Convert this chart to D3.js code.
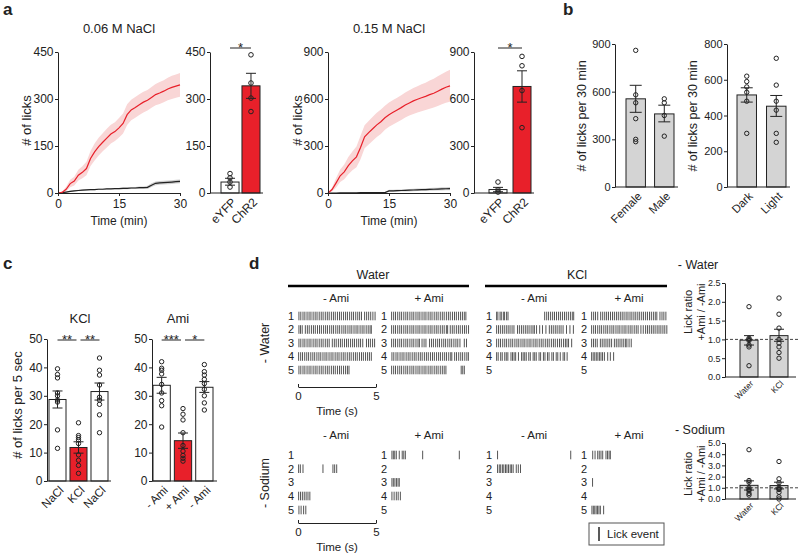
<!DOCTYPE html>
<html>
<head>
<script src="https://cdn.jsdelivr.net/npm/d3@7"></script>
<style>
  body { margin: 0; background: #fff; }
  svg { font-family: "Liberation Sans", Arial, sans-serif; }
</style>
</head>
<body>
<svg width="800" height="554"></svg>
<script>
// ---------- data ----------
// panel a: cumulative licks over 30 min
const timeMin = [0,1,2,3,4,5,6,7,8,9,10,11,12,13,14,15,16,17,18,19,20,21,22,23,24,25,26,27,28,29,30];
const chr2Low = [0,2,12,30,38,57,66,78,110,131,148,162,175,188,196,208,222,250,265,273,282,290,296,305,314,319,325,332,337,341,345];
const chr2LowLo = [0,0,5,18,24,40,47,57,86,104,120,133,145,158,166,177,190,217,232,240,249,257,263,272,280,284,290,296,300,304,307];
const chr2LowHi = [0,4,20,42,52,74,85,100,134,158,176,191,205,218,226,239,254,283,298,306,315,323,329,338,348,354,360,368,374,378,383];
const eyfpLow = [0,1,3,5,7,8,9,10,11,11,12,12,13,13,14,14,15,15,16,16,17,17,18,25,31,32,33,34,35,36,37];
const eyfpLowLo = [0,0,1,3,5,6,7,8,9,9,10,10,11,11,12,12,12,12,13,13,13,13,13,19,25,26,27,28,29,30,31];
const eyfpLowHi = [0,2,5,7,9,10,11,12,13,13,14,14,15,15,16,16,18,18,19,19,21,21,23,31,37,38,39,40,41,42,43];
const chr2High = [0,22,65,110,135,175,205,231,290,359,385,410,435,455,480,500,515,530,545,562,575,588,598,608,617,628,637,650,663,675,684];
const chr2HighLo = [0,10,35,70,88,120,145,165,215,285,310,333,357,377,403,423,437,452,466,482,494,505,514,522,530,538,545,555,566,576,583];
const chr2HighHi = [0,35,95,150,182,230,265,297,365,433,460,487,513,533,557,577,593,608,624,642,656,671,682,694,704,718,729,745,760,774,786];
const eyfpHigh = [0,0,0,1,1,1,1,1,2,2,2,2,2,2,3,13,14,15,16,17,18,19,20,21,22,23,24,25,26,27,28];
const eyfpHighLo = [0,0,0,0,0,0,0,0,0,0,0,0,0,0,1,6,7,8,9,10,10,11,12,13,13,14,15,16,16,17,18];
const eyfpHighHi = [0,1,1,2,2,2,2,2,4,4,4,4,4,4,5,20,21,22,23,24,26,27,28,29,31,32,33,34,36,37,38];

const groupsA = ["eYFP", "ChR2"];
const totalLowMean = [35, 342], totalLowErr = [[25, 47], [302, 382]];
const totalLowDots = [[62, 48, 35, 19], [441, 351, 303, 260]];
const totalHighMean = [22, 680], totalHighErr = [[8, 36], [580, 780]];
const totalHighDots = [[70, 21, 6], [872, 812, 654, 417]];

// panel b
const sexGroups = ["Female", "Male"];
const sexMean = [555, 460], sexErr = [[470, 640], [410, 515]];
const sexDots = [[860, 580, 530, 430, 300, 285], [555, 530, 450, 320]];
const cycleGroups = ["Dark", "Light"];
const cycleMean = [515, 452], cycleErr = [[475, 555], [395, 512]];
const cycleDots = [[620, 590, 560, 530, 480, 300], [720, 570, 480, 430, 300, 250]];

// panel c
const kclGroups = ["NaCl", "KCl", "NaCl"];
const kclMean = [28.7, 11.8, 31.5], kclErr = [[25.7, 31.7], [9.8, 13.8], [28.5, 34.5]];
const kclDots = [[39.5, 37.5, 36.3, 31, 30, 28.5, 27.8, 18, 11.5],
                 [20.5, 16, 15.3, 14.5, 13.2, 9.2, 7.3, 5.5, 2.7],
                 [43.3, 39, 37.3, 33.8, 29.5, 28.5, 27, 23.3, 17]];
const amiGroups = ["- Ami", "+ Ami", "- Ami"];
const amiMean = [33.7, 14.2, 33], amiErr = [[30.9, 36.5], [11.5, 16.9], [31.2, 35]];
const amiDots = [[42, 39.7, 39, 37.7, 34, 31, 28.3, 26.5, 19],
                 [25.5, 23.5, 21.5, 17, 12.5, 10.5, 9, 8, 7],
                 [41, 38.5, 37.3, 35.8, 34.3, 32.3, 30, 27.5, 25]];

// panel d: lick times (s) per trial
const wWaterMinus = [
  [0.06,0.18,0.32,0.44,0.58,0.71,0.83,0.97,1.1,1.22,1.36,1.49,1.61,1.75,1.88,2.0,2.14,2.27,2.39,2.53,2.66,2.78,2.92,3.05,3.17,3.31,3.44,3.56,3.7,3.83,3.95,4.07,4.27,4.4,4.53,4.66,4.8,4.94],
  [0.06,0.16,0.27,0.47,0.6,0.72,0.86,0.99,1.11,1.25,1.38,1.5,1.64,1.77,1.89,2.03,2.16,2.28,2.42,2.55,2.67,2.81,2.94,3.06,3.2,3.33,3.45,3.59,3.72,3.84,3.98,4.11,4.23,4.37,4.5,4.62,4.7],
  [0.06,0.18,0.32,0.44,0.58,0.71,0.83,0.97,1.1,1.22,1.36,1.49,1.61,1.75,1.88,2.0,2.2,2.33,2.45,2.59,2.72,2.84,2.98,3.11,3.23,3.37,3.5,3.62,3.76,3.89,4.01,4.15,4.39,4.52,4.64,4.78,4.91],
  [0.04,0.17,0.29,0.43,0.56,0.68,0.82,0.95,1.07,1.21,1.34,1.46,1.6,1.73,1.85,1.99,2.12,2.24,2.38,2.51,2.63,2.77,2.9,3.02,3.16,3.29,3.41,3.55,3.68,3.8,3.94,4.07,4.19,4.33,4.46,4.58,4.7],
  [0.06,0.18,0.32,0.44,0.58,0.71,0.83,0.97,1.1,1.22,1.36,1.49,1.61,1.75,1.88,2.0,2.14,2.27,2.39,2.53,2.66,2.78,2.92,3.05,3.17,3.27]
];
const wWaterPlus = [
  [0.04,0.17,0.29,0.43,0.56,0.68,0.82,0.95,1.07,1.21,1.34,1.46,1.6,1.73,1.85,1.99,2.12,2.24,2.38,2.51,2.63,2.77,2.9,3.02,3.16,3.29,3.41,3.55,3.68,3.8,3.94,4.07,4.19,4.33,4.46,4.58,4.7,4.8],
  [0.04,0.17,0.29,0.43,0.56,0.68,0.82,0.95,1.07,1.21,1.34,1.46,1.6,1.73,1.85,1.99,2.12,2.24,2.38,2.51,2.63,2.77,2.9,3.02,3.16,3.29,3.41,3.55,3.63,3.8,3.93,4.05,4.19,4.32,4.44,4.58,4.71,4.83,4.97],
  [0.04,0.17,0.29,0.43,0.56,0.68,0.82,0.95,1.07,1.21,1.34,1.46,1.6,1.73,1.82,1.99,2.12,2.24,2.47,2.6,2.72,2.86,2.99,3.11,3.25,3.38,3.5,3.64,3.77,3.89,4.03,4.16,4.28,4.42,4.7,4.84],
  [0.06,0.18,0.32,0.44,0.58,0.71,0.83,0.97,1.1,1.22,1.36,1.49,1.61,1.75,1.88,2.0,2.14,2.27,2.39,2.53,2.66,2.78,2.92,3.05,3.17,3.31,3.44,3.56,3.7,3.83,3.9,4.08,4.2,4.34,4.47,4.59,4.73,4.86,4.96],
  [0.04,0.17,0.29,0.43,0.56,0.68,0.82,0.95,1.07,1.21,1.34,1.46,1.6,1.73,1.85,1.99,2.12,2.24,2.38,2.51,2.63,2.77,2.9,3.02,3.16,3.29,3.41,3.52,4.5,4.6,4.7]
];
const wKclMinus = [
  [0.04,0.12,0.26,0.34,0.47,0.55,0.68,0.77,3.12,3.25,3.37,3.5,3.63,3.75,3.88,4.01,4.13,4.26,4.39,4.51,4.64,4.77,4.89,4.98],
  [0.04,0.16,0.28,0.41,0.53,0.66,0.78,0.9,1.03,1.15,1.38,1.5,1.63,1.75,1.88,2.0,2.12,2.25,2.37,2.46,2.6,2.8,2.98,3.2,3.42,3.55,3.67,3.8,3.92,4.05,4.17,4.3,4.52,4.74,4.96],
  [0.04,0.17,0.29,0.43,0.56,0.68,0.82,0.95,1.07,1.21,1.34,1.46,1.6,1.73,1.85,1.99,2.12,2.24,2.38,2.51,2.63,2.77,2.9,3.02,3.16,3.29,3.41,3.55,3.68,3.8,3.94,4.07,4.19,4.33,4.45,4.55,4.65,4.85],
  [0.04,0.14,0.3,0.4,0.56,0.66,0.76,0.96,1.06,1.16,1.26,1.44,1.64,1.74,1.84,1.94,2.1,2.2,2.38,2.48,2.58,2.76,2.86,3.04,3.14,3.3,3.4,3.58,3.68,3.86,3.96,4.12,4.3,4.4,4.56],
  []
];
const wKclPlus = [
  [0.04,0.17,0.29,0.43,0.62,0.75,0.88,1.0,1.12,1.25,1.38,1.5,1.63,1.75,1.88,2.0,2.12,2.25,2.37,2.5,2.62,2.75,2.87,3.0,3.12,3.25,3.37,3.5,3.62,3.75,3.87,4.0,4.12,4.22,4.42,4.55,4.67,4.8],
  [0.04,0.17,0.29,0.43,0.56,0.68,0.82,0.95,1.07,1.21,1.34,1.46,1.6,1.73,1.85,1.99,2.12,2.24,2.38,2.51,2.63,2.77,2.9,3.02,3.2,3.35,3.5,3.62,3.74,3.87,3.99,4.11,4.24,4.36,4.48,4.61,4.73,4.86],
  [0.04,0.16,0.28,0.4,0.6,0.72,0.84,0.96,1.08,1.2,1.32,1.5,1.62,1.74,1.86,1.98,2.1,2.22,2.3,2.44,2.58],
  [0.04,0.14,0.24,0.34,0.44,0.54,0.64,0.74,0.86,1.07,1.24,1.45],
  []
];
const sWaterMinus = [[], [0.04,0.15,0.32,1.6,2.24,2.35,2.48], [], [0.04,0.16,0.28,0.4,0.52,0.64,0.76], [0.06,0.2,0.36,0.5]];
const sWaterPlus = [[0.06,0.15,0.24,0.34,0.53,0.72,0.82,0.92,2.03,4.38], [], [0.06,0.15,0.25,0.35,0.45,0.53], [0.06,0.2,0.34,0.46,0.6], []];
const sKclMinus = [[0.1,4.79], [0.1,0.21,0.3,0.41,0.5,0.61,0.7,0.8,0.91,1.0,1.1,1.3,1.43,1.57], [], [], []];
const sKclPlus = [[0.11,0.26,0.43,0.53,0.64,0.75,0.96,1.06,1.16,1.24], [], [0.1], [], [0.06,0.15,0.24,0.33,0.42,0.51,0.6,0.81]];

// panel d right: lick ratio
const ratioGroups = ["Water", "KCl"];
const ratioWaterMean = [0.98, 1.1], ratioWaterErr = [[0.85, 1.1], [0.95, 1.27]];
const ratioWaterDots = [[1.87, 1.03, 1.0, 0.97, 0.85, 0.8, 0.3], [2.1, 1.67, 1.3, 1.0, 0.9, 0.8, 0.65, 0.5]];
const ratioSodiumMean = [1.22, 1.2], ratioSodiumErr = [[0.8, 1.62], [0.9, 1.5]];
const ratioSodiumDots = [[4.4, 1.65, 1.5, 1.0, 0.85, 0.75, 0.5, 0.35], [3.35, 1.8, 1.45, 1.0, 0.9, 0.85, 0.6, 0.2, 0.0]];

// ---------- drawing ----------
const svg = d3.select("svg");
const FONT = '"Liberation Sans", Arial, sans-serif';
const INK = "#222";
const RED = "#e8202a";

function label(x, y, s, size, anchor = "middle", rot = 0, weight = "normal") {
  return svg.append("text")
    .attr("transform", `translate(${x},${y}) rotate(${rot})`)
    .attr("text-anchor", anchor)
    .attr("dy", "0.35em")
    .attr("font-size", size)
    .attr("font-weight", weight)
    .attr("fill", INK)
    .text(s);
}

function styleAxis(g, size) {
  g.attr("font-family", FONT).attr("font-size", size);
  g.selectAll("path, line").attr("stroke", INK);
  g.selectAll("text").attr("fill", INK);
}

function barPlot(o) {
  const y = d3.scaleLinear().domain([0, o.max]).range([o.y0, o.y1]);
  const x = d3.scaleBand().domain(o.cats.map((c, i) => i)).range([o.b0, o.b1]).paddingInner(o.pad);
  const bw = x.bandwidth();
  const cx = i => x(i) + bw / 2;
  const g = svg.append("g");

  g.selectAll("rect").data(o.means).join("rect")
    .attr("x", (d, i) => x(i)).attr("y", d => y(d))
    .attr("width", bw).attr("height", d => o.y0 - y(d))
    .attr("fill", (d, i) => o.fills[i]).attr("stroke", INK).attr("stroke-width", 1);

  if (o.ref != null) {
    g.append("line").attr("x1", o.ax).attr("x2", o.refEnd)
      .attr("y1", y(o.ref)).attr("y2", y(o.ref))
      .attr("stroke", "#444").attr("stroke-dasharray", "3,2");
  }

  o.errs.forEach((e, i) => {
    const c = cx(i), w = o.cap;
    g.append("line").attr("x1", c).attr("x2", c).attr("y1", y(e[0])).attr("y2", y(e[1])).attr("stroke", INK);
    e.forEach(v => g.append("line").attr("x1", c - w).attr("x2", c + w).attr("y1", y(v)).attr("y2", y(v)).attr("stroke", INK));
  });

  o.dots.forEach((arr, i) => {
    g.selectAll(null).data(arr).join("circle")
      .attr("cx", cx(i)).attr("cy", d => y(d)).attr("r", o.r)
      .attr("fill", "none").attr("stroke", INK).attr("stroke-width", 1);
  });

  const ax = g.append("g").attr("transform", `translate(${o.ax},0)`)
    .call(d3.axisLeft(y).tickValues(o.ticks).tickFormat(o.fmt || d3.format("d")).tickSize(3).tickSizeOuter(0).tickPadding(1.5));
  styleAxis(ax, o.fs);
  g.append("line").attr("x1", o.ax).attr("x2", o.axEnd).attr("y1", o.y0).attr("y2", o.y0).attr("stroke", INK);

  o.cats.forEach((c, i) => label(cx(i) + o.lx, o.y0 + o.ly, c, o.cfs, "end", -45));

  (o.sig || []).forEach(s => {
    const x1 = cx(s[0]) + (s[3] || 0), x2 = cx(s[1]) + (s[4] || 0);
    g.append("line").attr("x1", x1).attr("x2", x2).attr("y1", o.sigY).attr("y2", o.sigY).attr("stroke", INK);
    label((x1 + x2) / 2, o.sigY - 1, s[2], 13);
  });
  return { x, y, cx };
}

function linePlot(o) {
  const x = d3.scaleLinear().domain([0, 30]).range([o.x0, o.x1]);
  const y = d3.scaleLinear().domain([0, o.max]).range([o.y0, o.y1]);
  const g = svg.append("g");
  o.series.forEach(s => {
    g.append("path").datum(timeMin.map((t, i) => [t, s.lo[i], s.hi[i]]))
      .attr("d", d3.area().x(d => x(d[0])).y0(d => y(d[1])).y1(d => y(d[2])))
      .attr("fill", s.band);
  });
  o.series.forEach(s => {
    g.append("path").datum(timeMin.map((t, i) => [t, s.mean[i]]))
      .attr("d", d3.line().x(d => x(d[0])).y(d => y(d[1])))
      .attr("fill", "none").attr("stroke", s.color).attr("stroke-width", 1.2);
  });
  const ay = g.append("g").attr("transform", `translate(${o.x0},0)`)
    .call(d3.axisLeft(y).tickValues(o.ticks).tickSize(3).tickSizeOuter(0).tickPadding(1.5));
  styleAxis(ay, 12);
  const ax = g.append("g").attr("transform", `translate(0,${o.y0})`)
    .call(d3.axisBottom(x).tickValues([0, 15, 30]).tickSize(3).tickSizeOuter(0).tickPadding(3));
  styleAxis(ax, 12);
  label((o.x0 + o.x1) / 2, o.y0 + 28, "Time (min)", 12);
  label(o.ylx, (o.y0 + o.y1) / 2 - 2, "# of licks", 13, "middle", -90);
  label((o.x0 + o.x1) / 2, 28, o.title, 13);
}

// ---- panel a ----
label(3, 9, "a", 17, "start", 0, "bold");
linePlot({ x0: 58, x1: 180, y0: 193, y1: 52, max: 450, ticks: [0, 150, 300, 450], ylx: 26, title: "0.06 M NaCl",
  series: [
    { mean: eyfpLow, lo: eyfpLowLo, hi: eyfpLowHi, color: "#222", band: "#cfcfcf" },
    { mean: chr2Low, lo: chr2LowLo, hi: chr2LowHi, color: RED, band: "#f9d6d6" }
  ] });
barPlot({ ax: 210, axEnd: 263, b0: 221, b1: 260, pad: 0.14, y0: 193, y1: 52, max: 450, ticks: [0, 150, 300, 450],
  cats: groupsA, means: totalLowMean, errs: totalLowErr, dots: totalLowDots, fills: ["#fff", RED],
  r: 2.3, cap: 5, fs: 12, cfs: 12, lx: 4, ly: 7, sig: [[0, 1, "*"]], sigY: 48 });

linePlot({ x0: 328, x1: 450, y0: 193, y1: 52, max: 900, ticks: [0, 300, 600, 900], ylx: 297, title: "0.15 M NaCl",
  series: [
    { mean: eyfpHigh, lo: eyfpHighLo, hi: eyfpHighHi, color: "#222", band: "#cfcfcf" },
    { mean: chr2High, lo: chr2HighLo, hi: chr2HighHi, color: RED, band: "#f9d6d6" }
  ] });
barPlot({ ax: 474, axEnd: 534, b0: 489, b1: 531, pad: 0.25, y0: 193, y1: 52, max: 900, ticks: [0, 300, 600, 900],
  cats: groupsA, means: totalHighMean, errs: totalHighErr, dots: totalHighDots, fills: ["#fff", RED],
  r: 2.3, cap: 5, fs: 12, cfs: 12, lx: 4, ly: 7, sig: [[0, 1, "*"]], sigY: 48 });

// ---- panel b ----
label(563, 9, "b", 17, "start", 0, "bold");
barPlot({ ax: 615, axEnd: 678, b0: 626, b1: 674, pad: 0.32, y0: 187, y1: 44, max: 900, ticks: [0, 300, 600, 900],
  cats: sexGroups, means: sexMean, errs: sexErr, dots: sexDots, fills: ["#d4d4d4", "#d4d4d4"],
  r: 2.2, cap: 6, fs: 11, cfs: 11.5, lx: 4, ly: 7 });
label(582, 116, "# of licks per 30 min", 12.5, "middle", -90);
barPlot({ ax: 727, axEnd: 790, b0: 737, b1: 786, pad: 0.34, y0: 187, y1: 44, max: 800, ticks: [0, 200, 400, 600, 800],
  cats: cycleGroups, means: cycleMean, errs: cycleErr, dots: cycleDots, fills: ["#d4d4d4", "#d4d4d4"],
  r: 2.2, cap: 6, fs: 11, cfs: 11.5, lx: 4, ly: 7 });
label(693, 116, "# of licks per 30 min", 12.5, "middle", -90);

// ---- panel c ----
label(3, 263, "c", 17, "start", 0, "bold");
label(80, 318, "KCl", 13);
barPlot({ ax: 47, axEnd: 111, b0: 49, b1: 108, pad: 0.19, y0: 481, y1: 339, max: 50, ticks: [0, 10, 20, 30, 40, 50],
  cats: kclGroups, means: kclMean, errs: kclErr, dots: kclDots, fills: ["#fff", RED, "#fff"],
  r: 2.2, cap: 5, fs: 12, cfs: 11.5, lx: 4, ly: 7, sigY: 340, sig: [[0, 1, "**", 0, -2], [1, 2, "**", 2, 0]] });
label(178, 318, "Ami", 13);
barPlot({ ax: 152, axEnd: 217, b0: 153, b1: 213, pad: 0.19, y0: 481, y1: 339, max: 50, ticks: [0, 10, 20, 30, 40, 50],
  cats: amiGroups, means: amiMean, errs: amiErr, dots: amiDots, fills: ["#fff", RED, "#fff"],
  r: 2.2, cap: 5, fs: 12, cfs: 11.5, lx: 4, ly: 7, sigY: 340, sig: [[0, 1, "***", 0, -2], [1, 2, "*", 2, 0]] });
label(17, 405, "# of licks per 5 sec", 13, "middle", -90);

// ---- panel d: rasters ----
label(249, 263, "d", 17, "start", 0, "bold");
label(373, 275, "Water", 12.5);
svg.append("line").attr("x1", 288).attr("x2", 469).attr("y1", 286).attr("y2", 286).attr("stroke", "#000").attr("stroke-width", 2.5);
label(577, 275, "KCl", 12.5);
svg.append("line").attr("x1", 485).attr("x2", 667).attr("y1", 286).attr("y2", 286).attr("stroke", "#000").attr("stroke-width", 2.5);

const rowsUpper = [316, 329.5, 343, 356.5, 370];
const rowsLower = [455, 468.7, 482.4, 496, 510];
const rasterStarts = [298, 391, 496, 591];

function raster(x0, trials, rowY) {
  const t = d3.scaleLinear().domain([0, 5]).range([x0, x0 + 78]);
  trials.forEach((licks, i) => {
    label(x0 - 7, rowY[i], String(i + 1), 11);
    svg.selectAll(null).data(licks).join("line")
      .attr("x1", d => t(d)).attr("x2", d => t(d))
      .attr("y1", rowY[i] - 4.3).attr("y2", rowY[i] + 4.3)
      .attr("stroke", "#555").attr("stroke-width", 1);
  });
  return t;
}
function timeAxis(t, y) {
  const g = svg.append("g").attr("transform", `translate(0,${y})`)
    .call(d3.axisBottom(t).tickValues([0, 5]).tickFormat(d3.format("d")).tickSize(-3).tickSizeOuter(0).tickPadding(5));
  styleAxis(g, 11.5);
  label((t.range()[0] + t.range()[1]) / 2, y + 24, "Time (s)", 11.5);
}

[wWaterMinus, wWaterPlus, wKclMinus, wKclPlus].forEach((tr, k) => {
  const t = raster(rasterStarts[k], tr, rowsUpper);
  label(rasterStarts[k] + 38, 298, k % 2 ? "+ Ami" : "- Ami", 11.5);
  if (k === 0) timeAxis(t, 387);
});
[sWaterMinus, sWaterPlus, sKclMinus, sKclPlus].forEach((tr, k) => {
  const t = raster(rasterStarts[k], tr, rowsLower);
  label(rasterStarts[k] + 38, 435, k % 2 ? "+ Ami" : "- Ami", 11.5);
  if (k === 0) timeAxis(t, 523);
});
label(265, 343, "- Water", 12.5, "middle", -90);
label(265, 483, "- Sodium", 12.5, "middle", -90);

// legend
svg.append("rect").attr("x", 589).attr("y", 523).attr("width", 75).attr("height", 22)
  .attr("fill", "none").attr("stroke", "#555");
svg.append("line").attr("x1", 599).attr("x2", 599).attr("y1", 527).attr("y2", 541).attr("stroke", "#222").attr("stroke-width", 1.5);
label(607, 534, "Lick event", 11.5, "start");

// ---- panel d: lick ratio ----
const fmt1 = d3.format(".1f");
label(698, 265, "- Water", 12.5);
barPlot({ ax: 725, axEnd: 796, b0: 740, b1: 788, pad: 0.4, y0: 377, y1: 283, max: 2.5, ticks: [0, 0.5, 1, 1.5, 2, 2.5], fmt: fmt1,
  cats: ratioGroups, means: ratioWaterMean, errs: ratioWaterErr, dots: ratioWaterDots, fills: ["#d4d4d4", "#d4d4d4"],
  r: 2.2, cap: 5, fs: 9, cfs: 8.5, lx: 3, ly: 5, ref: 1, refEnd: 800 });
label(688, 312, "Lick ratio", 11, "middle", -90);
label(701, 312, "+Ami / -Ami", 11, "middle", -90);

label(700, 430, "- Sodium", 12.5);
barPlot({ ax: 725, axEnd: 796, b0: 740, b1: 788, pad: 0.4, y0: 499, y1: 443, max: 5, ticks: [0, 1, 2, 3, 4, 5], fmt: fmt1,
  cats: ratioGroups, means: ratioSodiumMean, errs: ratioSodiumErr, dots: ratioSodiumDots, fills: ["#d4d4d4", "#d4d4d4"],
  r: 2.2, cap: 5, fs: 9, cfs: 8.5, lx: 3, ly: 5, ref: 1, refEnd: 800 });
label(688, 474, "Lick ratio", 11, "middle", -90);
label(701, 474, "+Ami / -Ami", 11, "middle", -90);
</script>
</body>
</html>
